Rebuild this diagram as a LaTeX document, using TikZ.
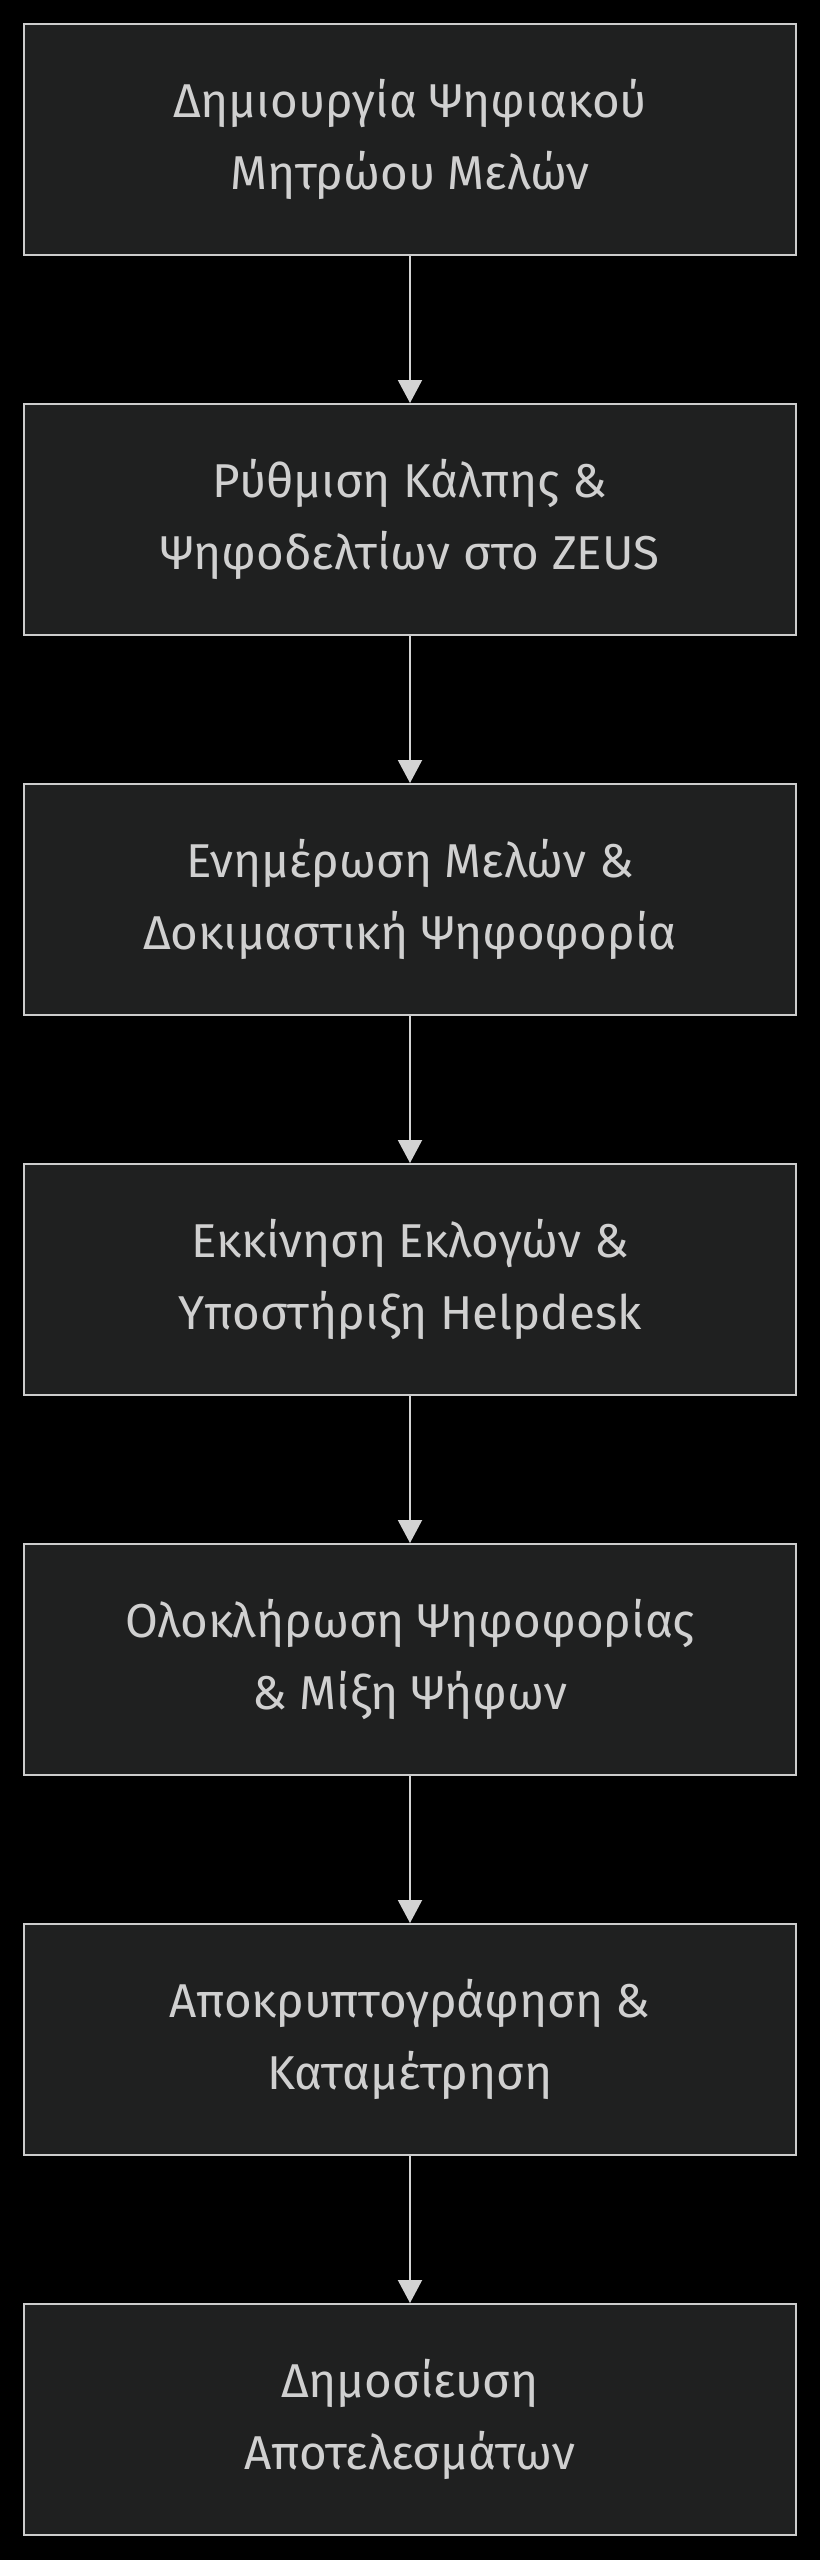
\documentclass[tikz,border=0pt]{standalone}
\usepackage{fontspec}
\setmainfont{Fira Sans}
\usetikzlibrary{arrows.meta}
\definecolor{bgc}{HTML}{000000}
\definecolor{boxfill}{HTML}{1F2020}
\definecolor{boxline}{HTML}{CCCCCC}
\definecolor{txt}{HTML}{D0D0D0}
\definecolor{edgec}{HTML}{D3D3D3}
\tikzset{
  stepbox/.style={draw=boxline, fill=boxfill, line width=2.4pt, rectangle,
    minimum width=771.6pt, minimum height=230.6pt, inner sep=0pt,
    text=txt, align=center,
    font=\fontsize{47.5}{72}\selectfont},
  flowarrow/.style={draw=edgec, line width=2pt,
    -{Triangle[length=23pt,width=24pt]}}
}
\begin{document}
\begin{tikzpicture}[x=1pt,y=-1pt]
\fill[bgc] (0,0) rectangle (820,2560);
\useasboundingbox (0,0) rectangle (820,2560);
\node[stepbox] (n1) at (410,139.5)  {Δημιουργία Ψηφιακού\\Μητρώου Μελών};
\node[stepbox] (n2) at (410,519.5)  {Ρύθμιση Κάλπης \&\\Ψηφοδελτίων στο ZEUS};
\node[stepbox] (n3) at (410,899.5)  {Ενημέρωση Μελών \&\\Δοκιμαστική Ψηφοφορία};
\node[stepbox] (n4) at (410,1279.5) {Εκκίνηση Εκλογών \&\\Υποστήριξη Helpdesk};
\node[stepbox] (n5) at (410,1659.5) {Ολοκλήρωση Ψηφοφορίας\\\& Μίξη Ψήφων};
\node[stepbox] (n6) at (410,2039.5) {Αποκρυπτογράφηση \&\\Καταμέτρηση};
\node[stepbox] (n7) at (410,2419.5) {Δημοσίευση\\Αποτελεσμάτων};
\draw[flowarrow] (n1) -- (n2);
\draw[flowarrow] (n2) -- (n3);
\draw[flowarrow] (n3) -- (n4);
\draw[flowarrow] (n4) -- (n5);
\draw[flowarrow] (n5) -- (n6);
\draw[flowarrow] (n6) -- (n7);
\end{tikzpicture}
\end{document}
